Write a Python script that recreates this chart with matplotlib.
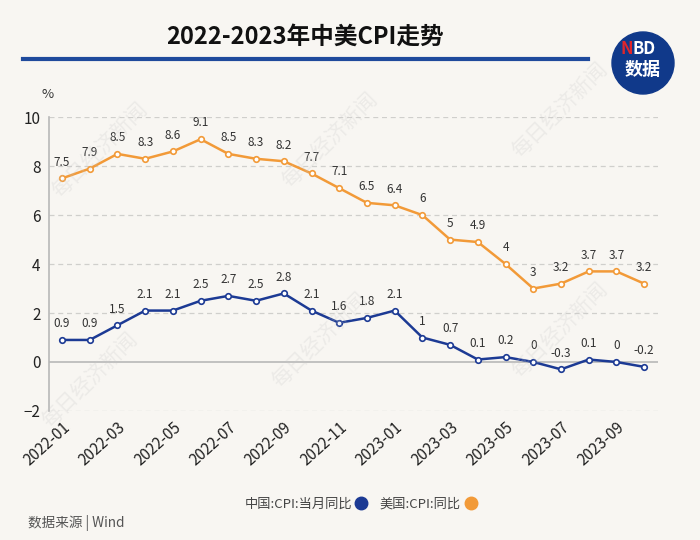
import matplotlib
matplotlib.use("Agg")
import matplotlib.pyplot as plt
from matplotlib.patches import Circle

plt.rcParams['font.family'] = ['Noto Sans CJK SC', 'DejaVu Sans']

months = ["2022-01", "2022-02", "2022-03", "2022-04", "2022-05", "2022-06",
          "2022-07", "2022-08", "2022-09", "2022-10", "2022-11", "2022-12",
          "2023-01", "2023-02", "2023-03", "2023-04", "2023-05", "2023-06",
          "2023-07", "2023-08", "2023-09", "2023-10"]
us_cpi = [7.5, 7.9, 8.5, 8.3, 8.6, 9.1, 8.5, 8.3, 8.2, 7.7, 7.1, 6.5,
          6.4, 6, 5, 4.9, 4, 3, 3.2, 3.7, 3.7, 3.2]
cn_cpi = [0.9, 0.9, 1.5, 2.1, 2.1, 2.5, 2.7, 2.5, 2.8, 2.1, 1.6, 1.8,
          2.1, 1, 0.7, 0.1, 0.2, 0, -0.3, 0.1, 0, -0.2]

BG = "#f8f6f2"
ORANGE = "#f29a38"
BLUE = "#1c3a94"

fig = plt.figure(figsize=(7, 5.4), dpi=100, facecolor=BG)
ax = fig.add_axes([0.07, 0.239, 0.87, 0.544])
ax.set_facecolor(BG)

x = list(range(len(months)))
ax.plot(x, us_cpi, color=ORANGE, lw=1.8, marker="o", ms=4,
        mfc="white", mec=ORANGE, mew=1.2, zorder=3)
ax.plot(x, cn_cpi, color=BLUE, lw=1.8, marker="o", ms=4,
        mfc="white", mec=BLUE, mew=1.2, zorder=3)

def fmt(v):
    return f"{v:g}"

for xi, v in zip(x, us_cpi):
    ax.annotate(fmt(v), (xi, v), xytext=(0, 7), textcoords="offset points",
                ha="center", va="bottom", fontsize=8.5, color="#333333")
for xi, v in zip(x, cn_cpi):
    ax.annotate(fmt(v), (xi, v), xytext=(0, 7), textcoords="offset points",
                ha="center", va="bottom", fontsize=8.5, color="#333333")

ax.set_xlim(-0.47, 21.5)
ax.set_ylim(-2, 10)
ax.set_yticks([-2, 0, 2, 4, 6, 8, 10])
for yv in [-2, 2, 4, 6, 8, 10]:
    ax.axhline(yv, color="#d0cfcc", lw=0.9, ls=(0, (4, 3)), zorder=1)
ax.axhline(0, color="#b8b8b8", lw=1.2, zorder=2)

ax.set_xticks(x[::2])
ax.set_xticklabels(months[::2], rotation=42, ha="right",
                   rotation_mode="anchor", fontsize=11, color="#222222")
ax.tick_params(axis="x", length=0, pad=6)
ax.tick_params(axis="y", length=0, labelsize=11, colors="#222222", pad=6)
for s in ["top", "right", "bottom"]:
    ax.spines[s].set_visible(False)
ax.spines["left"].set_color("#b8b8b8")
ax.spines["left"].set_linewidth(1.2)

fig.text(48 / 700, 1 - 95 / 540, "%", fontsize=9.5, color="#333333",
         ha="center", va="center")

# title and rule
fig.text(305 / 700, 1 - 37 / 540, "2022-2023年中美CPI走势", fontsize=17,
         fontweight="bold", ha="center", va="center", color="#111111")
fig.add_artist(plt.Line2D([23 / 700, 588 / 700], [1 - 59 / 540, 1 - 59 / 540],
                          color="#1f4a9c", lw=3))

# logo, drawn in inches so it stays round
logo = Circle((6.43, 5.4 - 0.63), 0.31, transform=fig.dpi_scale_trans,
              color="#10398a", zorder=5)
fig.add_artist(logo)
fig.text(633 / 700, 1 - 49 / 540, "N", fontsize=12, fontweight="bold",
         color="#e0262b", ha="right", va="center", zorder=6)
fig.text(633 / 700, 1 - 49 / 540, "BD", fontsize=12, fontweight="bold",
         color="white", ha="left", va="center", zorder=6)
fig.text(643 / 700, 1 - 69 / 540, "数据", fontsize=13, fontweight="bold",
         color="white", ha="center", va="center", zorder=6)

# watermarks
for wx, wy in [(100, 150), (330, 140), (560, 110), (320, 340), (560, 330), (90, 380)]:
    fig.text(wx / 700, 1 - wy / 540, "每日经济新闻", fontsize=15, rotation=45,
             color="#c8c8c8", alpha=0.25, ha="center", va="center")

# legend
fig.text(352 / 700, 1 - 504 / 540, "中国:CPI:当月同比", fontsize=9.5,
         color="#444444", ha="right", va="center")
fig.add_artist(plt.Line2D([361 / 700], [1 - 503 / 540], marker="o", ms=9,
                          color=BLUE, transform=fig.transFigure))
fig.text(461 / 700, 1 - 504 / 540, "美国:CPI:同比", fontsize=9.5,
         color="#444444", ha="right", va="center")
fig.add_artist(plt.Line2D([471 / 700], [1 - 503 / 540], marker="o", ms=9,
                          color=ORANGE, transform=fig.transFigure))

fig.text(28 / 700, 1 - 523 / 540, "数据来源 | Wind", fontsize=9.8,
         color="#555555", ha="left", va="center")

fig.savefig("out.png", dpi=100, facecolor=BG)
